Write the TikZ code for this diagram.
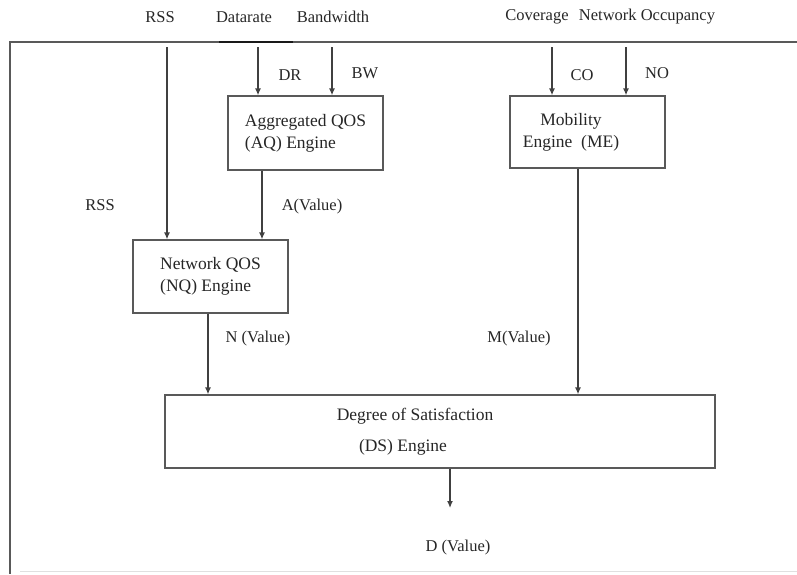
\documentclass[tikz,border=0pt]{standalone}
\usepackage{fontspec}
\setmainfont{Liberation Serif}
\usetikzlibrary{arrows.meta}

\begin{document}
\begin{tikzpicture}[x=1pt, y=-1pt,
   engine/.style={rectangle, draw=black!65, line width=1.3pt, fill=white, text=black!85, font=\fontsize{17.5}{22}\selectfont, inner sep=0pt},
   tag/.style={text=black!85, font=\fontsize{16.5}{20}\selectfont, inner sep=0pt},
   transition/.style={-{Latex[length=7pt,width=6pt]}, draw=black!75, line width=1.3pt}]
\useasboundingbox (0,0) rectangle (797,574);

% frame
\draw[black!65, line width=1.3pt] (797,42) -- (10,42) -- (10,574);
\draw[black!90, line width=2.2pt] (219,42) -- (293,42);
\draw[black!12, line width=1pt] (20,571) -- (797,571);

% inputs
\node[tag] (rss) at (160,17) {RSS};
\node[tag] (datarate) at (244,17) {Datarate};
\node[tag] (bandwidth) at (333,17) {Bandwidth};
\node[tag] (coverage) at (537,17) {Coverage};
\node[tag] (occupancy) at (647,17) {Network Occupancy};

% engines
\node[engine, minimum width=155, minimum height=74, align=left] (aq) at (305.5,133) {Aggregated QOS\\(AQ) Engine};
\node[engine, minimum width=155, minimum height=73, align=left] (nq) at (210.5,276.5) {Network QOS\\(NQ) Engine};
\node[engine, minimum width=155, minimum height=72, align=center] (me) at (587.5,132) {Mobility\hspace*{33pt}\\Engine\ \ (ME)\hspace*{33pt}};
\node[engine, minimum width=550, minimum height=73, align=center] (ds) at (440,431.5) {Degree of Satisfaction\hspace*{50pt}\\[9pt](DS) Engine\hspace*{74pt}};

% labels
\node[tag] (dr) at (290,75) {DR};
\node[tag] (bw) at (365,73) {BW};
\node[tag] (co) at (582,75) {CO};
\node[tag] (no) at (657,73) {NO};
\node[tag] (rssval) at (100,205) {RSS};
\node[tag] (aval) at (312,207) {A(Value)};
\node[tag] (nval) at (258,339) {N (Value)};
\node[tag] (mval) at (519,339) {M(Value)};
\node[tag] (dval) at (458,548) {D (Value)};

\coordinate (rssin) at (167,47);
\coordinate (drin) at (258,47);
\coordinate (bwin) at (332,47);
\coordinate (coin) at (552,47);
\coordinate (noin) at (626,47);
\coordinate (ax) at (262,200);
\coordinate (nx) at (208,350);
\coordinate (mx) at (578,350);
\coordinate (dout) at (450,508);

\path
    (rssin) edge[transition] (nq.north -| rssin)
    (drin) edge[transition] (aq.north -| drin)
    (bwin) edge[transition] (aq.north -| bwin)
    (coin) edge[transition] (me.north -| coin)
    (noin) edge[transition] (me.north -| noin)
    (aq.south -| ax) edge[transition] (nq.north -| ax)
    (nq.south -| nx) edge[transition] (ds.north -| nx)
    (me.south -| mx) edge[transition] (ds.north -| mx)
    (ds.south -| dout) edge[transition] (dout)
;

\end{tikzpicture}
\end{document}
